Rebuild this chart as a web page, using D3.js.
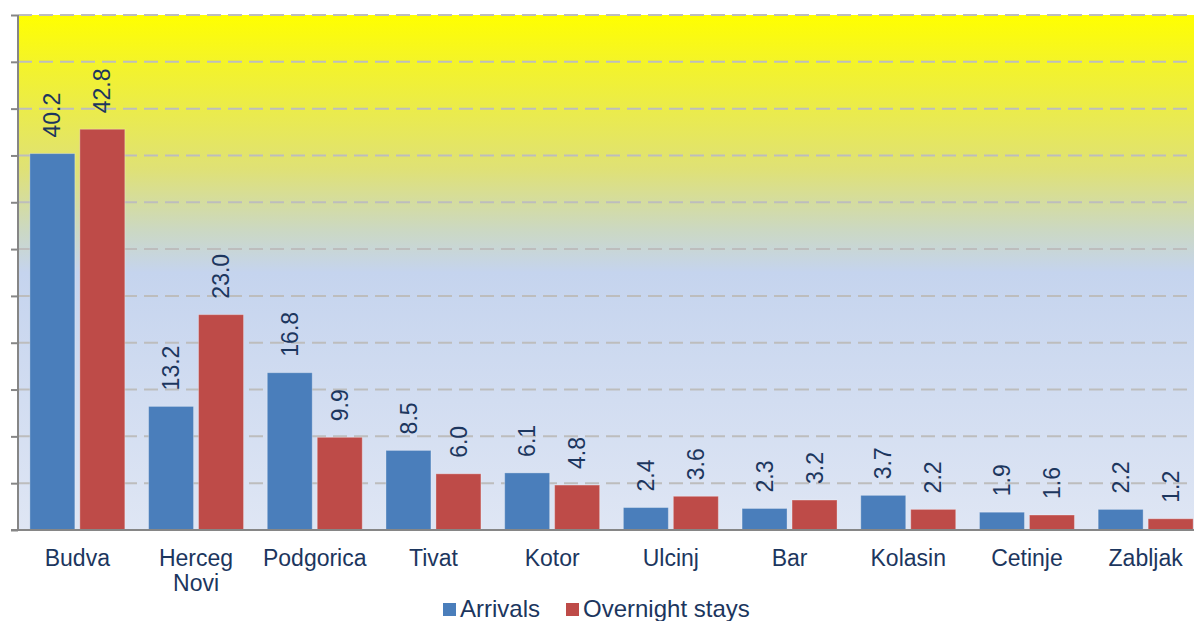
<!DOCTYPE html>
<html>
<head>
<meta charset="utf-8">
<script src="https://cdn.jsdelivr.net/npm/d3@7/dist/d3.min.js"></script>
<style>
  html, body { margin: 0; padding: 0; background: #ffffff; overflow: hidden; }
  svg { display: block; font-family: "Liberation Sans", Arial, sans-serif; }
</style>
</head>
<body>
<svg id="chart" width="1194" height="621"></svg>
<script>
const categories = ["Budva", "Herceg Novi", "Podgorica", "Tivat", "Kotor", "Ulcinj", "Bar", "Kolasin", "Cetinje", "Zabljak"];
const arrivals = [40.2, 13.2, 16.8, 8.5, 6.1, 2.4, 2.3, 3.7, 1.9, 2.2];
const overnightStays = [42.8, 23.0, 9.9, 6.0, 4.8, 3.6, 3.2, 2.2, 1.6, 1.2];
const seriesNames = ["Arrivals", "Overnight stays"];
const seriesColors = ["#4a7ebb", "#be4b48"];
const yTicks = [0, 5, 10, 15, 20, 25, 30, 35, 40, 45, 50, 55];

(function () {
const seriesValues = [arrivals, overnightStays];
const svg = d3.select("#chart");
const pLeft = 18, pRight = 1205, pTop = 15, pBottom = 530;
const textColor = "#1c365e";

const x0 = d3.scaleBand().domain(categories).range([pLeft, pRight]).paddingInner(0.2).paddingOuter(0.1);
const x1 = d3.scaleBand().domain(seriesNames).range([0, x0.bandwidth()]).paddingInner(0.1);
const y = d3.scaleLinear().domain([0, 55]).range([pBottom, pTop]);

// background gradient
const defs = svg.append("defs");
const grad = defs.append("linearGradient").attr("id", "bg").attr("x1", 0).attr("y1", 0).attr("x2", 0).attr("y2", 1);
[[0, "#ffff00"], [0.1, "#f3f32c"], [0.3, "#dfe176"], [0.42, "#cbd8c4"], [0.5, "#c5d4ee"], [1, "#dfe6f4"]]
  .forEach(([o, c]) => grad.append("stop").attr("offset", o).attr("stop-color", c));

svg.append("rect").attr("x", pLeft).attr("y", pTop).attr("width", 1194 - pLeft).attr("height", pBottom - pTop).attr("fill", "url(#bg)");

// gridlines
svg.append("g").selectAll("line").data(yTicks.filter(d => d > 0)).join("line")
  .attr("x1", pLeft).attr("x2", 1194)
  .attr("y1", d => y(d)).attr("y2", d => y(d))
  .attr("stroke", "#bdbdbd").attr("stroke-width", 2).attr("stroke-dasharray", "14,7");

// bars
const groups = svg.append("g").selectAll("g").data(categories).join("g")
  .attr("transform", d => `translate(${x0(d)},0)`);

groups.each(function(cat, i) {
  const g = d3.select(this);
  seriesNames.forEach((s, j) => {
    const v = seriesValues[j][i];
    g.append("rect")
      .attr("x", x1(s)).attr("y", y(v))
      .attr("width", x1.bandwidth()).attr("height", y(0) - y(v))
      .attr("fill", seriesColors[j])
      .attr("stroke", "rgba(255,255,255,0.3)").attr("stroke-width", 1);
    const cx = x1(s) + x1.bandwidth() / 2;
    g.append("text")
      .attr("transform", `translate(${cx},${y(v) - 16}) rotate(-90)`)
      .attr("dy", "0.35em")
      .attr("text-anchor", "start")
      .attr("font-size", 23)
      .attr("fill", textColor)
      .text(v.toFixed(1));
  });
});

// y axis
const yAxis = d3.axisLeft(y).tickValues(yTicks).tickSize(7).tickFormat("");
const ya = svg.append("g").attr("transform", `translate(${pLeft},0)`).call(yAxis);
ya.selectAll("line").attr("stroke", "#868686").attr("stroke-width", 2);
ya.select(".domain").attr("stroke", "#868686").attr("stroke-width", 2).attr("d", `M0,${pTop}V${pBottom}`);

// x baseline
svg.append("line").attr("x1", pLeft - 7).attr("x2", 1194).attr("y1", pBottom).attr("y2", pBottom)
  .attr("stroke", "#868686").attr("stroke-width", 2);

// category labels
const xl = svg.append("g");
categories.forEach(c => {
  const cx = x0(c) + x0.bandwidth() / 2;
  const words = c.split(" ");
  const t = xl.append("text").attr("text-anchor", "middle").attr("font-size", 23).attr("fill", textColor);
  words.forEach((w, k) => {
    t.append("tspan").attr("x", cx).attr("y", 566 + k * 25).text(w);
  });
});

// legend
const legend = svg.append("g");
const legendItems = [{x: 443, name: seriesNames[0], color: seriesColors[0]}, {x: 566, name: seriesNames[1], color: seriesColors[1]}];
legendItems.forEach(it => {
  legend.append("rect").attr("x", it.x).attr("y", 603).attr("width", 13).attr("height", 13).attr("fill", it.color);
  legend.append("text").attr("x", it.x + 17).attr("y", 617).attr("font-size", 24).attr("fill", textColor).text(it.name);
});
})();
</script>
</body>
</html>
